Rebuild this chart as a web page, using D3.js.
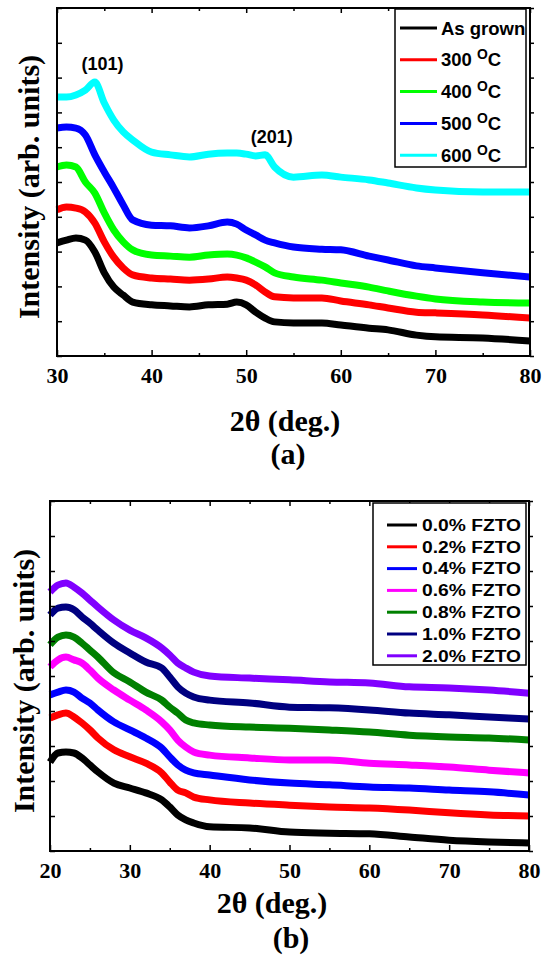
<!DOCTYPE html>
<html lang="en">
<head>
<meta charset="UTF-8">
<title>XRD patterns</title>
<style>
  body { margin: 0; background: #fff; }
  svg { display: block; }
  .axis-title { font-family: "Liberation Serif", "Times New Roman", serif; font-weight: bold; font-size: 30px; }
  .legend text, .peak { font-family: "Liberation Sans", Arial, sans-serif; font-weight: bold; }
</style>
</head>
<body>
<svg id="chart" width="550" height="962"></svg>
<script src="https://d3js.org/d3.v7.min.js"></script>
<script>
// panel (a): annealing temperature
const xA = [30,31,32,33,34,35,36,37,38,40,42,44,46,48,49,50,51,52,53,55,58,60,63,65,68,70,75,80];
const aAsGrown = [3.25,3.33,3.39,3.33,2.99,2.39,1.98,1.75,1.55,1.47,1.44,1.41,1.47,1.49,1.55,1.47,1.26,1.09,0.98,0.95,0.95,0.89,0.80,0.75,0.60,0.55,0.52,0.43];
const a300 = [4.20,4.28,4.25,4.14,3.82,3.28,2.84,2.53,2.33,2.24,2.21,2.18,2.21,2.27,2.24,2.18,2.04,1.84,1.70,1.67,1.67,1.58,1.47,1.38,1.26,1.24,1.18,1.09];
const a400 = [5.43,5.49,5.43,5.00,4.68,4.11,3.62,3.28,3.05,2.90,2.87,2.84,2.90,2.93,2.90,2.82,2.70,2.56,2.39,2.27,2.18,2.10,1.98,1.87,1.72,1.64,1.55,1.52];
const a500 = [6.55,6.58,6.55,6.35,5.78,5.29,4.83,4.34,3.91,3.76,3.74,3.68,3.74,3.85,3.79,3.62,3.48,3.33,3.25,3.13,3.07,3.05,2.87,2.76,2.59,2.53,2.39,2.27];
const a600 = [7.44,7.44,7.50,7.64,7.87,7.27,6.78,6.44,6.21,5.86,5.78,5.72,5.80,5.83,5.83,5.80,5.75,5.78,5.43,5.14,5.20,5.14,5.06,4.97,4.83,4.77,4.71,4.71];
const legendA = ['As grown', '300 °C', '400 °C', '500 °C', '600 °C'];
const colorsA = ['#000000', '#ff0000', '#00ff00', '#0000ff', '#00ffff'];
const ticksA = [30, 40, 50, 60, 70, 80];
const minorA = [35, 45, 55, 65, 75];
const peaksA = [{label: '(101)', x: 34.8, y: 8.4}, {label: '(201)', x: 52.7, y: 6.3}];

// panel (b): FZTO content
const xB = [20,21,22,23,24,25,26,28,30,32,34,35,36,37,38,40,45,50,55,60,65,70,75,80];
const b00 = [2.54,2.80,2.83,2.80,2.66,2.46,2.26,1.94,1.80,1.66,1.46,1.26,1.03,0.89,0.80,0.69,0.66,0.54,0.51,0.49,0.40,0.31,0.26,0.23];
const b02 = [3.80,3.89,3.94,3.83,3.66,3.46,3.23,2.89,2.69,2.51,2.23,1.97,1.74,1.66,1.54,1.46,1.37,1.31,1.26,1.23,1.17,1.09,1.03,1.00];
const b04 = [4.46,4.54,4.60,4.54,4.37,4.23,4.03,3.69,3.46,3.23,2.94,2.69,2.46,2.31,2.23,2.17,2.03,1.94,1.89,1.83,1.80,1.74,1.69,1.60];
const b06 = [5.26,5.46,5.54,5.46,5.37,5.17,4.94,4.60,4.31,4.03,3.69,3.46,3.17,2.97,2.83,2.74,2.66,2.60,2.60,2.51,2.46,2.40,2.31,2.23];
const b08 = [5.89,6.11,6.17,6.11,5.94,5.74,5.54,5.09,4.83,4.54,4.31,4.11,3.94,3.74,3.66,3.60,3.54,3.51,3.46,3.40,3.31,3.26,3.23,3.17];
const b10 = [6.74,6.94,6.97,6.89,6.69,6.51,6.31,5.94,5.66,5.40,5.23,4.97,4.69,4.51,4.40,4.31,4.23,4.11,4.09,4.03,3.94,3.89,3.83,3.77];
const b20 = [7.40,7.60,7.66,7.54,7.37,7.17,6.97,6.60,6.31,6.09,5.80,5.60,5.37,5.23,5.11,5.00,4.94,4.89,4.83,4.80,4.69,4.66,4.60,4.51];
const legendB = ['0.0% FZTO', '0.2% FZTO', '0.4% FZTO', '0.6% FZTO', '0.8% FZTO', '1.0% FZTO', '2.0% FZTO'];
const colorsB = ['#000000', '#ff0000', '#0000ff', '#ff00ff', '#008000', '#000080', '#8000ff'];
const ticksB = [20, 30, 40, 50, 60, 70, 80];
const minorB = [25, 35, 45, 55, 65, 75];

const yTicks = d3.range(0, 11);

const svg = d3.select('#chart');

function drawPanel(p) {
  const x = d3.scaleLinear().domain(p.xDomain).range([p.left, p.right]);
  const y = d3.scaleLinear().domain([0, 10]).range([p.bottom, p.top]);
  const g = svg.append('g');

  // curves
  const line = d3.line()
    .x(d => x(d[0]))
    .y(d => y(d[1]))
    .curve(d3.curveMonotoneX);

  p.series.forEach((vals, i) => {
    g.append('path')
      .datum(p.xs.map((v, j) => [v, vals[j]]))
      .attr('fill', 'none')
      .attr('stroke', p.colors[i])
      .attr('stroke-width', p.lineWidth)
      .attr('stroke-linejoin', 'round')
      .attr('d', line);
  });

  // axes, ticks pointing in
  const addAxis = (axis, tr) => g.append('g')
    .attr('transform', tr)
    .call(axis)
    .call(s => s.select('.domain').remove())
    .call(s => s.selectAll('line').attr('stroke-width', 1.5));

  const bottom = addAxis(d3.axisBottom(x).tickValues(p.major).tickSize(-6).tickPadding(11).tickFormat(d3.format('d')),
    `translate(0,${p.bottom})`);
  bottom.attr('font-family', '"Liberation Serif", "Times New Roman", serif')
    .attr('font-size', 22)
    .attr('font-weight', 'bold');
  bottom.selectAll('text').attr('fill', '#000');
  addAxis(d3.axisBottom(x).tickValues(p.minor).tickSize(-3).tickFormat(''), `translate(0,${p.bottom})`);
  addAxis(d3.axisTop(x).tickValues(p.major).tickSize(-5).tickFormat(''), `translate(0,${p.top})`);
  addAxis(d3.axisTop(x).tickValues(p.minor).tickSize(-3).tickFormat(''), `translate(0,${p.top})`);
  addAxis(d3.axisLeft(y).tickValues(yTicks).tickSize(-5).tickFormat(''), `translate(${p.left},0)`);
  addAxis(d3.axisRight(y).tickValues(yTicks).tickSize(4).tickFormat(''), `translate(${p.right},0)`);

  g.append('rect')
    .attr('x', p.left).attr('y', p.top)
    .attr('width', p.right - p.left).attr('height', p.bottom - p.top)
    .attr('fill', 'none').attr('stroke', '#000').attr('stroke-width', 2);

  // legend
  const lg = g.append('g').attr('class', 'legend');
  lg.append('rect')
    .attr('x', p.legend.x).attr('y', p.legend.y)
    .attr('width', p.legend.w).attr('height', p.legend.h)
    .attr('fill', '#fff').attr('stroke', '#000').attr('stroke-width', 1.5);

  p.labels.forEach((lab, i) => {
    const ey = p.legend.y0 + i * p.legend.step;
    lg.append('line')
      .attr('x1', p.legend.l1).attr('x2', p.legend.l2)
      .attr('y1', ey).attr('y2', ey)
      .attr('stroke', p.colors[i]).attr('stroke-width', 3);
    const t = lg.append('text')
      .attr('x', p.legend.tx).attr('y', ey).attr('dy', '0.36em')
      .attr('font-size', p.legend.fs);
    if (lab.includes('°')) {
      const parts = lab.split('°');
      t.append('tspan').text(parts[0]);
      t.append('tspan').attr('dy', -7).attr('font-size', p.legend.fs * 0.75).text('O');
      t.append('tspan').attr('dy', 7).text(parts[1]);
    } else {
      t.text(lab);
      if (p.legend.tw) t.attr('textLength', p.legend.tw).attr('lengthAdjust', 'spacingAndGlyphs');
    }
  });

  // peak labels
  (p.peaks || []).forEach(pk => {
    g.append('text').attr('class', 'peak')
      .attr('x', x(pk.x)).attr('y', y(pk.y)).attr('dy', '0.35em')
      .attr('text-anchor', 'middle').attr('font-size', 18)
      .text(pk.label);
  });

  // titles
  g.append('text').attr('class', 'axis-title')
    .attr('transform', `translate(${p.yTitle[0]},${p.yTitle[1]}) rotate(-90)`)
    .attr('text-anchor', 'middle')
    .attr('font-size', p.yTitle[2])
    .text('Intensity (arb. units)');
  g.append('text').attr('class', 'axis-title')
    .attr('x', p.xTitle[0]).attr('y', p.xTitle[1])
    .attr('text-anchor', 'middle')
    .text('2θ (deg.)');
  g.append('text').attr('class', 'axis-title')
    .attr('x', p.tag[0]).attr('y', p.tag[1])
    .attr('text-anchor', 'middle')
    .text(p.tag[2]);
}

drawPanel({
  left: 57, right: 530, top: 8, bottom: 356,
  xDomain: [30, 80], major: ticksA, minor: minorA,
  xs: xA, series: [aAsGrown, a300, a400, a500, a600],
  colors: colorsA, labels: legendA, lineWidth: 7,
  legend: {x: 395, y: 9, w: 131, h: 158, y0: 28, step: 31.8, l1: 400, l2: 437, tx: 441, fs: 18.5},
  peaks: peaksA,
  yTitle: [39, 187, 30], xTitle: [285, 431], tag: [288, 464, '(a)']
});

drawPanel({
  left: 50, right: 529, top: 501, bottom: 851,
  xDomain: [20, 80], major: ticksB, minor: minorB,
  xs: xB, series: [b00, b02, b04, b06, b08, b10, b20],
  colors: colorsB, labels: legendB, lineWidth: 7,
  legend: {x: 373, y: 503, w: 153, h: 162, y0: 525, step: 21.8, l1: 387, l2: 417, tx: 422, fs: 16, tw: 99},
  yTitle: [34, 681, 29], xTitle: [272, 913], tag: [291, 948, '(b)']
});
</script>
</body>
</html>
